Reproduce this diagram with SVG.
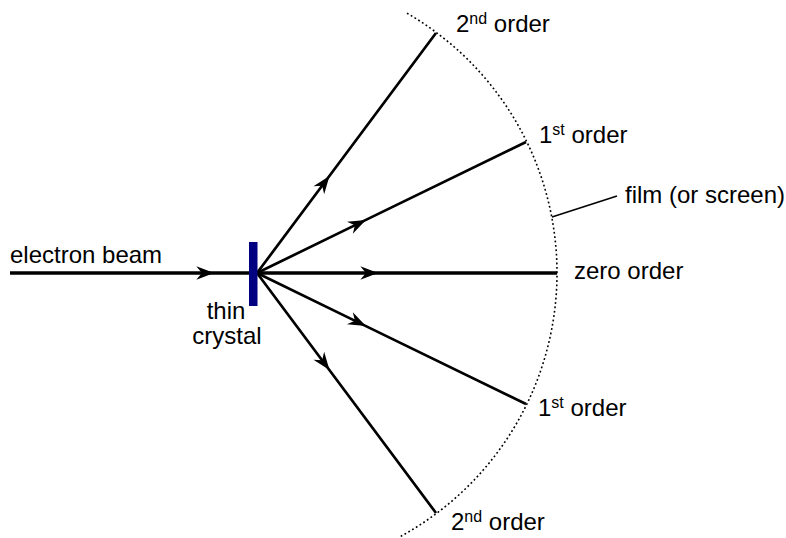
<svg xmlns="http://www.w3.org/2000/svg" width="786" height="538" viewBox="0 0 786 538">
<defs>
<style>
text{font-family:"Liberation Sans",Arial,sans-serif;font-size:24px;fill:#000}
.sup{font-size:16px}
.ray{fill:none;stroke:#000;stroke-width:2.7;marker-mid:url(#arr)}
.beam{fill:none;stroke:#000;stroke-width:3.5;marker-mid:url(#arr)}
</style>
<marker id="arr" markerUnits="userSpaceOnUse" markerWidth="20" markerHeight="20" viewBox="-16 -8 18 16" refX="0" refY="0" orient="auto" overflow="visible">
<path d="M1,0 L-15,-6 L-10,0 L-15,6 Z" fill="#000"/>
</marker>
</defs>
<g id="connectors">
<path class="beam" d="M10,273 L213,273 L250,273"/>
<path class="beam" d="M257,273 L377,273 L557,273"/>
<path class="ray" d="M257,273 L328.8,176.8 L436,33"/>
<path class="ray" d="M257,273 L364.9,220.4 L526,142"/>
<path class="ray" d="M257,273 L364.9,325.6 L526,404"/>
<path class="ray" d="M257,273 L328.8,369.2 L436,513"/>
<path d="M552,217 L617,196" fill="none" stroke="#000" stroke-width="1.5"/>
</g>
<g id="film">
<path d="M407,13.2 A300,300 0 0 1 399.7,536.9" fill="none" stroke="#000" stroke-width="1.6" stroke-dasharray="1.8,2.6"/>
</g>
<g id="crystal">
<rect x="249" y="242" width="8.5" height="64" fill="#000080"/>
<text x="226" y="319" text-anchor="middle">thin</text>
<text x="227" y="344" text-anchor="middle">crystal</text>
</g>
<g id="label-beam"><text x="10" y="263">electron beam</text></g>
<g id="label-zero"><text x="574" y="279">zero order</text></g>
<g id="label-film"><text x="625" y="203">film (or screen)</text></g>
<g id="label-1st-top"><text x="539" y="143">1<tspan class="sup" dy="-8">st</tspan><tspan dy="8"> order</tspan></text></g>
<g id="label-2nd-top"><text x="456" y="32">2<tspan class="sup" dy="-8">nd</tspan><tspan dy="8"> order</tspan></text></g>
<g id="label-1st-bottom"><text x="538" y="416">1<tspan class="sup" dy="-8">st</tspan><tspan dy="8"> order</tspan></text></g>
<g id="label-2nd-bottom"><text x="451" y="530">2<tspan class="sup" dy="-8">nd</tspan><tspan dy="8"> order</tspan></text></g>
</svg>
